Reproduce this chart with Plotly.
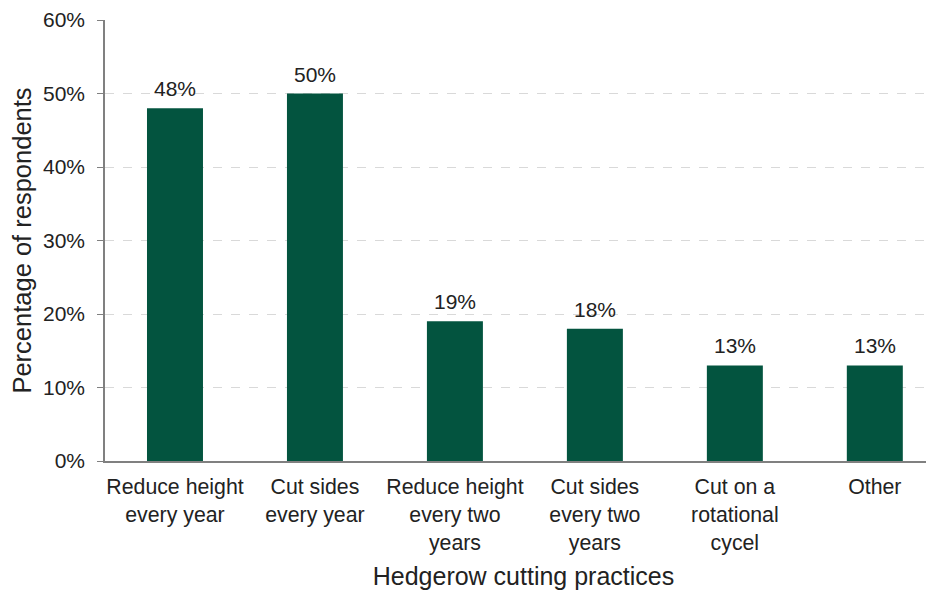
import plotly.graph_objects as go

categories = ["Reduce height<br>every year", "Cut sides<br>every year",
              "Reduce height<br>every two<br>years", "Cut sides<br>every two<br>years",
              "Cut on a<br>rotational<br>cycel", "Other"]
values = [48, 50, 19, 18, 13, 13]
labels = ["48%", "50%", "19%", "18%", "13%", "13%"]
tick_vals = [0, 10, 20, 30, 40, 50, 60]
tick_text = ["0%", "10%", "20%", "30%", "40%", "50%", "60%"]

FONT = "Liberation Sans, Arial, sans-serif"

xs = list(range(len(categories)))
fig = go.Figure(go.Bar(
    x=xs, y=values,
    marker=dict(color="#03543F", line=dict(width=0)), width=0.4,
))

for xi, v, lab in zip(xs, values, labels):
    fig.add_annotation(x=xi, y=v, text=lab, showarrow=False, yanchor="bottom",
                       yshift=6, font=dict(family=FONT, size=21, color="#222"))

fig.update_layout(
    width=934, height=590,
    margin=dict(l=97, r=0, t=12, b=137),
    paper_bgcolor="white", plot_bgcolor="white",
    font=dict(family=FONT, size=21, color="#222"),
    showlegend=False, bargap=0.6,
    xaxis=dict(
        tickmode="array", tickvals=xs, ticktext=categories,
        range=[-0.5, 5.48], showline=True, linecolor="#808080", linewidth=1.5,
        ticks="outside", ticklen=6, tickcolor="rgba(0,0,0,0)",
        showgrid=False, tickfont=dict(size=21.3, color="#222"), automargin=False,
        title=dict(text="Hedgerow cutting practices", font=dict(size=25, color="#222"), standoff=14),
    ),
    yaxis=dict(
        range=[0, 60], tickvals=tick_vals, ticktext=tick_text,
        showline=True, linecolor="#808080", linewidth=1.5,
        ticks="outside", ticklen=6, tickcolor="#808080", ticklabelstandoff=8,
        showgrid=True, gridcolor="#d9d9d9", griddash="dash", gridwidth=1,
        zeroline=False, tickfont=dict(size=21, color="#222"), automargin=False,
        title=dict(text="Percentage of respondents", font=dict(size=25.5, color="#222"), standoff=5),
    ),
)

fig.write_html("out.html")
